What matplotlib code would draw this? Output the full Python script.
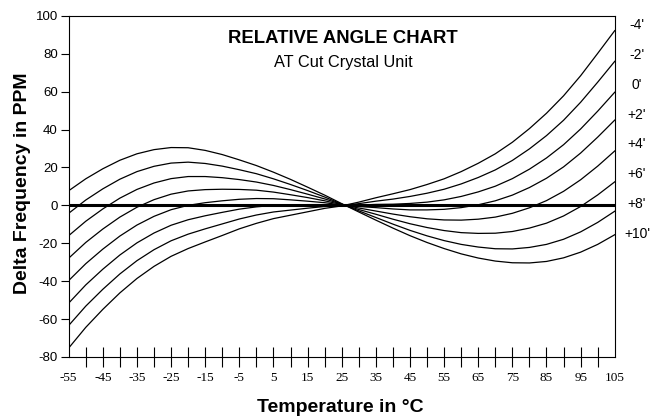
import matplotlib
matplotlib.use("Agg")
import matplotlib.pyplot as plt

plt.rcParams["font.family"] = ["Liberation Sans", "DejaVu Sans"]
plt.rcParams["axes.unicode_minus"] = False

# Temperature samples (deg C)
TEMPS = [-55, -50, -45, -40, -35, -30, -25, -20, -15, -10, -5, 0, 5, 10, 15, 20,
         25, 30, 35, 40, 45, 50, 55, 60, 65, 70, 75, 80, 85, 90, 95, 100, 105]

# Delta frequency (ppm), one list per relative angle
M4 = [-75.3, -64.4, -54.9, -46.2, -38.6, -32.2, -26.9, -22.8, -19.3, -15.9, -12.4, -9.5,
      -7.0, -5.2, -3.4, -1.6, -0.3, 1.7, 4.0, 6.1, 8.3, 11.0, 14.0, 17.8, 22.2, 27.2,
      33.3, 40.5, 48.6, 57.8, 68.4, 80.2, 92.2]
M2 = [-63.4, -53.2, -44.3, -36.2, -29.2, -23.4, -18.7, -15.2, -12.4, -9.8, -7.2, -5.1,
      -3.5, -2.5, -1.5, -0.6, -0.1, 0.9, 2.2, 3.3, 4.7, 6.4, 8.5, 11.3, 14.7, 18.7,
      23.7, 29.8, 36.8, 44.9, 54.4, 65.0, 76.0]
Z0 = [-51.6, -42.0, -33.7, -26.2, -19.8, -14.6, -10.5, -7.6, -5.5, -3.7, -2.0, -0.8,
      0.0, 0.2, 0.4, 0.4, 0.1, 0.1, 0.5, 0.6, 1.0, 1.7, 2.9, 4.7, 7.1, 10.1,
      14.1, 19.1, 25.0, 32.0, 40.3, 49.7, 59.7]
P2 = [-39.7, -30.8, -23.1, -16.2, -10.4, -5.8, -2.3, 0.0, 1.4, 2.4, 3.2, 3.6,
      3.5, 2.9, 2.2, 1.4, 0.2, -0.6, -1.2, -1.9, -2.4, -2.4, -2.1, -1.2, 0.3, 2.4,
      5.4, 9.4, 14.3, 20.3, 27.6, 36.0, 45.0]
P4 = [-27.9, -19.6, -12.5, -6.2, -1.0, 3.0, 5.9, 7.6, 8.3, 8.5, 8.4, 8.0,
      7.0, 5.6, 4.1, 2.4, 0.4, -1.4, -3.0, -4.6, -6.0, -7.1, -7.7, -7.8, -7.3, -6.2,
      -4.2, -1.3, 2.5, 7.4, 13.5, 20.7, 28.7]
P6 = [-16.0, -8.4, -1.9, 3.8, 8.4, 11.8, 14.1, 15.2, 15.2, 14.6, 13.6, 12.3,
      10.5, 8.3, 5.9, 3.4, 0.6, -2.2, -4.7, -7.3, -9.7, -11.7, -13.3, -14.4, -14.8, -14.7,
      -13.8, -12.0, -9.4, -5.6, -0.6, 5.5, 12.4]
P8 = [-4.2, 2.8, 8.7, 13.8, 17.8, 20.6, 22.3, 22.8, 22.1, 20.7, 18.8, 16.7,
      14.0, 11.0, 7.8, 4.4, 0.7, -2.9, -6.4, -9.9, -13.2, -16.1, -18.6, -20.6, -22.0, -22.9,
      -23.0, -22.2, -20.6, -17.9, -14.0, -9.0, -3.1]
P10 = [7.7, 14.0, 19.3, 23.8, 27.2, 29.4, 30.5, 30.4, 29.0, 26.8, 24.0, 21.0,
       17.5, 13.7, 9.6, 5.4, 0.9, -3.5, -7.8, -12.0, -16.0, -19.6, -22.8, -25.6, -27.8, -29.4,
       -30.3, -30.4, -29.6, -27.7, -24.7, -20.6, -15.5]

ANGLE_LABELS = ["-4'", "-2'", "0'", "+2'", "+4'", "+6'", "+8'", "+10'"]
XTICK_LABELS = [-55, -45, -35, -25, -15, -5, 5, 15, 25, 35, 45, 55, 65, 75, 85, 95, 105]
XTICK_MINOR = [-50, -45, -40, -35, -30, -25, -20, -15, -10, -5, 0, 5, 10, 15, 20, 25,
               30, 35, 40, 45, 50, 55, 60, 65, 70, 75, 80, 85, 90, 95, 100]
YTICKS = [-80, -60, -40, -20, 0, 20, 40, 60, 80, 100]


def main():
    fig = plt.figure(figsize=(6.54, 4.17), dpi=100)
    ax = fig.add_axes([0.105, 0.144, 0.835, 0.818])

    for vals in [M4, M2, Z0, P2, P4, P6, P8, P10]:
        ax.plot(TEMPS, vals, color="black", lw=0.9)
    ax.axhline(0, color="black", lw=2.2, zorder=3)

    ax.set_xlim(-55, 105)
    ax.set_ylim(-80, 100)
    for sp in ax.spines.values():
        sp.set_linewidth(0.8)

    ax.set_yticks(YTICKS)
    ax.set_yticklabels([str(v) for v in YTICKS])
    ax.tick_params(axis="y", direction="out", length=5.8, width=0.8, pad=2, labelsize=9.5)

    # labels every 10 deg without marks, tick marks every 5 deg across the axis line
    ax.xaxis.remove_overlapping_locs = False
    ax.set_xticks(XTICK_LABELS)
    ax.set_xticklabels([str(v) for v in XTICK_LABELS], family="Liberation Serif", fontsize=9.5)
    ax.set_xticks(XTICK_MINOR, minor=True)
    ax.tick_params(axis="x", which="major", length=0, pad=11)
    ax.tick_params(axis="x", which="minor", direction="inout", length=14.4, width=0.8)

    # angle labels down the right side
    for i, lab in enumerate(ANGLE_LABELS):
        ax.text(111.5, 95 - 15.7 * i, lab, ha="center", va="center", fontsize=10, clip_on=False)

    fig.text(0.525, 0.896, "RELATIVE ANGLE CHART", ha="center", va="baseline",
             fontsize=13.3, fontweight="bold")
    fig.text(0.525, 0.840, "AT Cut Crystal Unit", ha="center", va="baseline", fontsize=11.8)
    fig.text(0.034, 0.56, "Delta Frequency in PPM", rotation=90, ha="center", va="center",
             fontsize=14, fontweight="bold")
    fig.text(0.52, 0.011, "Temperature in \u00b0C", ha="center", va="baseline",
             fontsize=14, fontweight="bold")

    fig.savefig("out.png", dpi=100, facecolor="white")
    plt.close(fig)


if __name__ == "__main__":
    main()
